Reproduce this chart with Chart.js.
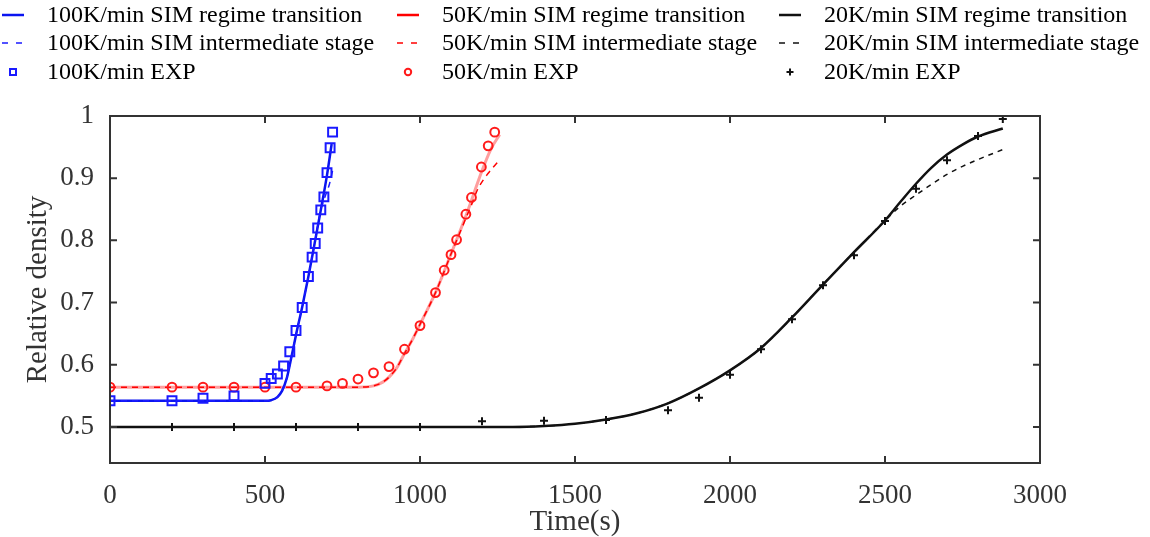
<!DOCTYPE html>
<html>
<head>
<meta charset="utf-8">
<script src="https://cdn.jsdelivr.net/npm/chart.js@4.4.1/dist/chart.umd.min.js"></script>
<style>
  html, body { margin: 0; padding: 0; background: #fff; }
  #wrap { width: 1150px; height: 537px; position: relative; }
</style>
</head>
<body>
<div id="wrap"><canvas id="density"></canvas></div>
<script>
// tick labels
const xTicks = [0, 500, 1000, 1500, 2000, 2500, 3000];
const yTicks = [0.5, 0.6, 0.7, 0.8, 0.9, 1];

// 100K/min
const exp100T = [0, 200, 300, 400, 500, 520, 540, 560, 580, 600, 620, 640, 652, 662, 670, 680, 690, 700, 710, 718];
const exp100D = [0.542, 0.542, 0.546, 0.550, 0.570, 0.578, 0.585, 0.598, 0.621, 0.655, 0.692, 0.742, 0.773, 0.795, 0.820, 0.849, 0.870, 0.909, 0.949, 0.974];
const sim100T = [0, 500, 520, 540, 555, 570, 580, 600, 620, 640, 660, 680, 700, 715];
const sim100D = [0.542, 0.542, 0.543, 0.548, 0.558, 0.578, 0.600, 0.648, 0.693, 0.742, 0.795, 0.849, 0.905, 0.955];
const mid100T = [0, 500, 520, 540, 555, 570, 580, 600, 620, 640, 660, 680, 695, 707, 718];
const mid100D = [0.542, 0.542, 0.543, 0.548, 0.558, 0.578, 0.600, 0.648, 0.693, 0.742, 0.795, 0.849, 0.872, 0.889, 0.912];

// 50K/min
const exp50T = [0, 200, 300, 400, 500, 600, 700, 750, 800, 850, 900, 950, 1000, 1050, 1078, 1100, 1118, 1148, 1166, 1198, 1220, 1241];
const exp50D = [0.564, 0.564, 0.564, 0.564, 0.564, 0.564, 0.566, 0.570, 0.577, 0.587, 0.597, 0.625, 0.663, 0.716, 0.752, 0.777, 0.801, 0.842, 0.869, 0.918, 0.952, 0.974];
const sim50T = [0, 800, 850, 880, 900, 925, 950, 975, 1000, 1050, 1100, 1150, 1200, 1230, 1257];
const sim50D = [0.564, 0.564, 0.566, 0.572, 0.580, 0.595, 0.618, 0.640, 0.665, 0.716, 0.778, 0.842, 0.912, 0.948, 0.970];
const mid50T = [0, 800, 850, 880, 900, 925, 950, 975, 1000, 1050, 1100, 1150, 1170, 1185, 1220, 1257];
const mid50D = [0.564, 0.564, 0.566, 0.572, 0.580, 0.595, 0.618, 0.640, 0.665, 0.716, 0.778, 0.838, 0.862, 0.881, 0.908, 0.929];

// 20K/min
const exp20T = [0, 200, 400, 600, 800, 1000, 1200, 1400, 1600, 1800, 1900, 2000, 2100, 2200, 2300, 2400, 2500, 2600, 2700, 2800, 2880];
const exp20D = [0.5, 0.5, 0.5, 0.5, 0.5, 0.5, 0.509, 0.510, 0.511, 0.527, 0.547, 0.584, 0.625, 0.673, 0.728, 0.776, 0.831, 0.883, 0.929, 0.968, 0.995];
const sim20T = [0, 1300, 1400, 1500, 1600, 1700, 1800, 1900, 2000, 2100, 2200, 2300, 2400, 2500, 2550, 2600, 2650, 2700, 2750, 2800, 2880];
const sim20D = [0.5, 0.5, 0.5015, 0.505, 0.512, 0.522, 0.538, 0.562, 0.591, 0.627, 0.676, 0.729, 0.781, 0.832, 0.862, 0.891, 0.917, 0.938, 0.954, 0.967, 0.980];
const mid20T = [0, 1300, 1400, 1500, 1600, 1700, 1800, 1900, 2000, 2100, 2200, 2300, 2400, 2500, 2550, 2600, 2650, 2700, 2750, 2800, 2880];
const mid20D = [0.5, 0.5, 0.5015, 0.505, 0.512, 0.522, 0.538, 0.562, 0.591, 0.627, 0.676, 0.729, 0.781, 0.832, 0.855, 0.873, 0.890, 0.906, 0.919, 0.930, 0.946];

const serif = "'Liberation Serif', 'Times New Roman', serif";

function pts(t, d) {
  return t.map(function (v, i) { return { x: v, y: d[i] }; });
}

function simLine(label, t, d, color, width, dash, pos) {
  return {
    label: label, data: pts(t, d), borderColor: color, borderWidth: width,
    borderDash: dash, pointRadius: 0, cubicInterpolationMode: 'monotone',
    fill: false, legendPos: pos, legendColor: null
  };
}

function expPoints(label, t, d, color, style, radius, pos) {
  return {
    label: label, data: pts(t, d), showLine: false, borderColor: color,
    backgroundColor: 'rgba(0,0,0,0)', pointStyle: style, pointRadius: radius,
    pointBorderWidth: 2, legendPos: pos
  };
}

const datasets = [
  expPoints('100K/min EXP', exp100T, exp100D, '#1a1aff', 'rect', 6.3, [0, 2]),
  expPoints('50K/min EXP', exp50T, exp50D, '#ff1a1a', 'circle', 4.4, [1, 2]),
  expPoints('20K/min EXP', exp20T, exp20D, '#111', 'cross', 4, [2, 2]),
  simLine('100K/min SIM intermediate stage', mid100T, mid100D, '#1a1aff', 1.5, [6, 5], [0, 1]),
  simLine('50K/min SIM intermediate stage', mid50T, mid50D, '#ff0000', 1.5, [6, 5], [1, 1]),
  simLine('20K/min SIM intermediate stage', mid20T, mid20D, '#111', 1.5, [5, 5], [2, 1]),
  simLine('100K/min SIM regime transition', sim100T, sim100D, '#0a14f0', 2.5, [], [0, 0]),
  simLine('50K/min SIM regime transition', sim50T, sim50D, 'rgba(255,40,40,0.45)', 3, [], [1, 0]),
  simLine('20K/min SIM regime transition', sim20T, sim20D, '#111', 2.5, [], [2, 0])
];
// legend sample for the light red line is full red
datasets[7].legendColor = '#ff0000';

const legendCols = [2, 397, 779];
const legendRows = [15, 43, 72];

const frameAndLegend = {
  id: 'frameAndLegend',
  afterDraw: function (chart) {
    const ctx = chart.ctx;
    const a = chart.chartArea;
    const xs = chart.scales.x, ys = chart.scales.y;
    ctx.save();
    ctx.strokeStyle = '#333';
    ctx.lineWidth = 2;
    ctx.strokeRect(a.left, a.top, a.right - a.left, a.bottom - a.top);
    // inward ticks
    xs.ticks.forEach(function (t) {
      const px = xs.getPixelForValue(t.value);
      ctx.beginPath();
      ctx.moveTo(px, a.bottom); ctx.lineTo(px, a.bottom - 7);
      ctx.moveTo(px, a.top); ctx.lineTo(px, a.top + 7);
      ctx.stroke();
    });
    ys.ticks.forEach(function (t) {
      const py = ys.getPixelForValue(t.value);
      ctx.beginPath();
      ctx.moveTo(a.left, py); ctx.lineTo(a.left + 7, py);
      ctx.moveTo(a.right, py); ctx.lineTo(a.right - 7, py);
      ctx.stroke();
    });
    ctx.restore();

    // legend, 3 columns
    ctx.save();
    ctx.font = '24px ' + serif;
    ctx.textBaseline = 'middle';
    chart.data.datasets.forEach(function (ds) {
      const x0 = legendCols[ds.legendPos[0]];
      const y0 = legendRows[ds.legendPos[1]];
      const col = ds.legendColor || ds.borderColor;
      ctx.strokeStyle = col;
      if (ds.showLine === false) {
        ctx.lineWidth = 2;
        const cx = x0 + 11;
        ctx.beginPath();
        if (ds.pointStyle === 'rect') {
          ctx.rect(cx - 3, y0 - 3, 6, 6);
        } else if (ds.pointStyle === 'circle') {
          ctx.arc(cx, y0, 3.2, 0, Math.PI * 2);
        } else {
          ctx.moveTo(cx - 3.5, y0); ctx.lineTo(cx + 3.5, y0);
          ctx.moveTo(cx, y0 - 3.5); ctx.lineTo(cx, y0 + 3.5);
        }
        ctx.stroke();
      } else {
        ctx.lineWidth = ds.borderDash.length ? 1.5 : 2.5;
        ctx.setLineDash(ds.borderDash.length ? [6, 8] : []);
        ctx.beginPath();
        ctx.moveTo(x0, y0); ctx.lineTo(x0 + 22, y0);
        ctx.stroke();
        ctx.setLineDash([]);
      }
      ctx.fillStyle = '#000';
      ctx.fillText(ds.label, x0 + 45, y0 + 1);
    });
    ctx.restore();
  }
};

const chartDensity = new Chart(document.getElementById('density').getContext('2d'), {
  type: 'line',
  data: { datasets: datasets },
  options: {
    responsive: true,
    maintainAspectRatio: false,
    animation: false,
    layout: { padding: { top: 116, right: 110, left: 0, bottom: 0 } },
    plugins: { legend: { display: false }, tooltip: { enabled: false } },
    scales: {
      x: {
        type: 'linear', min: 0, max: 3000,
        grid: { display: false, drawTicks: false },
        border: { display: false },
        afterBuildTicks: function (s) { s.ticks = xTicks.map(function (v) { return { value: v }; }); },
        afterFit: function (s) { s.height = 74; },
        ticks: { padding: 17, color: '#333', font: { family: serif, size: 27 }, maxRotation: 0,
                 callback: function (v) { return String(v); } },
        title: { display: true, text: 'Time(s)', color: '#333', font: { family: serif, size: 29 }, padding: { top: 0, bottom: -3 } }
      },
      y: {
        type: 'linear', min: 0.442, max: 1,
        grid: { display: false, drawTicks: false },
        border: { display: false },
        afterBuildTicks: function (s) { s.ticks = yTicks.map(function (v) { return { value: v }; }); },
        afterFit: function (s) { s.width = 110; },
        ticks: { padding: 16, color: '#333', font: { family: serif, size: 27 },
                 callback: function (v) { return String(v); } },
        title: { display: true, text: 'Relative density', color: '#333', font: { family: serif, size: 29 }, padding: { top: 21, bottom: 0 } }
      }
    }
  },
  plugins: [frameAndLegend]
});
</script>
</body>
</html>
